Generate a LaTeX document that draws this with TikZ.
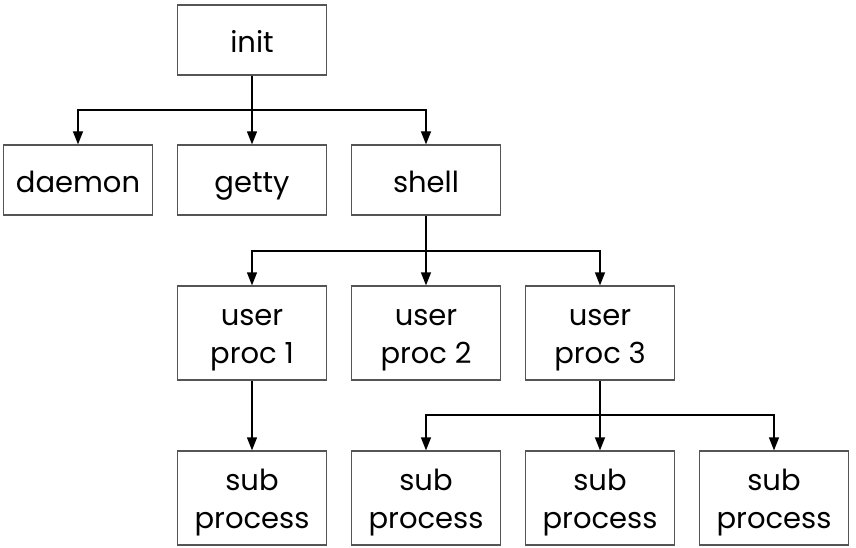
\documentclass[tikz,border=0pt]{standalone}
\usepackage{fontspec}
\setmainfont{Poppins}
\usetikzlibrary{arrows.meta}
\definecolor{boxline}{HTML}{555555}
\begin{document}
\begin{tikzpicture}[x=1pt,y=-1pt,
  proc/.style={draw=boxline, line width=1.2pt, fill=white, minimum width=149pt,
    minimum height=70pt, inner sep=0pt, align=center,
    text height=26pt, text depth=0pt,
    font=\fontsize{29}{38}\selectfont},
  tall/.style={proc, minimum height=94pt, text height=60pt, text depth=0pt},
  link/.style={draw=black, line width=1.2pt},
  arr/.style={link, -{Triangle[length=13pt,width=10pt]}}]
  \useasboundingbox (0,0) rectangle (856,548);

  % top level
  \node[proc] (init) at (252,40) {init};
  \node[proc] (daemon) at (78,180) {daemon};
  \node[proc] (getty) at (252,180) {getty};
  \node[proc] (shell) at (426,180) {shell};

  % user processes
  \node[tall] (up1) at (252,333) {user\\proc 1};
  \node[tall] (up2) at (426,333) {user\\proc 2};
  \node[tall] (up3) at (600,333) {user\\proc 3};

  % sub processes
  \node[tall] (sp1) at (252,498) {sub\\process};
  \node[tall] (sp2) at (426,498) {sub\\process};
  \node[tall] (sp3) at (600,498) {sub\\process};
  \node[tall] (sp4) at (774,498) {sub\\process};

  % branch points
  \coordinate (b1) at (252,110);
  \coordinate (b2) at (426,251);
  \coordinate (b3) at (600,415);

  \draw[link] (init.south) -- (b1);
  \draw[arr] (b1) -| (daemon.north);
  \draw[arr] (b1) -- (getty.north);
  \draw[arr] (b1) -| (shell.north);

  \draw[link] (shell.south) -- (b2);
  \draw[arr] (b2) -| (up1.north);
  \draw[arr] (b2) -- (up2.north);
  \draw[arr] (b2) -| (up3.north);

  \draw[arr] (up1.south) -- (sp1.north);

  \draw[link] (up3.south) -- (b3);
  \draw[arr] (b3) -| (sp2.north);
  \draw[arr] (b3) -- (sp3.north);
  \draw[arr] (b3) -| (sp4.north);
\end{tikzpicture}
\end{document}
